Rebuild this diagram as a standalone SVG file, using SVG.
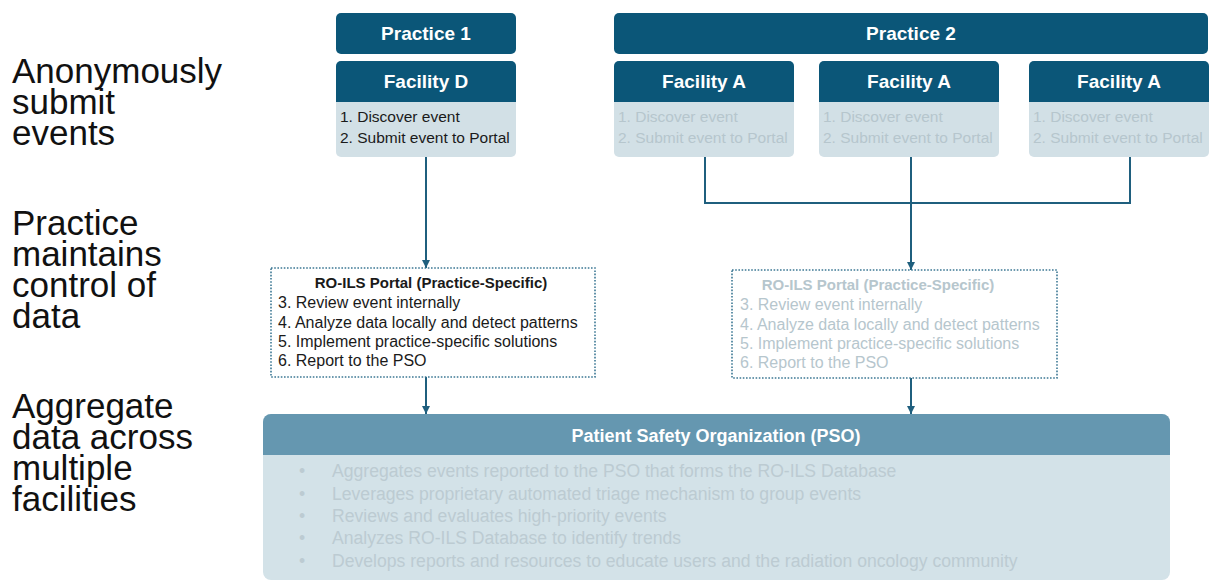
<svg xmlns="http://www.w3.org/2000/svg" width="1211" height="581" viewBox="0 0 1211 581">
  <defs>
    <marker id="arrow" viewBox="0 0 10 10" refX="10" refY="5" markerWidth="4" markerHeight="4" markerUnits="strokeWidth" orient="auto">
      <path d="M0,0 L10,5 L0,10 z" fill="#1f5f7e"/>
    </marker>
    <style>
      .lbl { font-family: "Liberation Sans", Arial, sans-serif; font-size: 35px; fill: #111; }
      .hdr { fill: #0b5678; }
      .hdrtxt { font-family: "Liberation Sans", Arial, sans-serif; font-weight: bold; font-size: 19px; fill: #fff; text-anchor: middle; }
      .body { fill: #d2e0e6; }
      .step { font-family: "Liberation Sans", Arial, sans-serif; font-size: 15.5px; fill: #1a1a1a; }
      .portal { fill: #fff; stroke: #3d7894; stroke-width: 1.6; stroke-dasharray: 1.6 1.6; }
      .ptitle { font-family: "Liberation Sans", Arial, sans-serif; font-weight: bold; font-size: 15px; fill: #1a1a1a; text-anchor: middle; }
      .pline { font-family: "Liberation Sans", Arial, sans-serif; font-size: 16px; fill: #1a1a1a; }
      .conn { fill: none; stroke: #1f5f7e; stroke-width: 2; }
      .psohdr { fill: #6597b0; }
      .psobody { fill: #d3e2e8; }
      .psotitle { font-family: "Liberation Sans", Arial, sans-serif; font-weight: bold; font-size: 18px; fill: #fff; text-anchor: middle; }
      .bullet { font-family: "Liberation Sans", Arial, sans-serif; font-size: 17.6px; fill: #bccbd2; }
      text.faded { fill: #b6c6cd; }
    </style>
  </defs>

  <rect width="1211" height="581" fill="#fff"/>

  <!-- Row labels (one text block per row, tight leading) -->
  <g id="label-submit">
    <text class="lbl" x="12" y="83">Anonymously<tspan x="12" dy="31">submit</tspan><tspan x="12" dy="31">events</tspan></text>
  </g>
  <g id="label-control">
    <text class="lbl" x="12" y="235">Practice<tspan x="12" dy="31">maintains</tspan><tspan x="12" dy="31">control of</tspan><tspan x="12" dy="31">data</tspan></text>
  </g>
  <g id="label-aggregate">
    <text class="lbl" x="12" y="418">Aggregate<tspan x="12" dy="31">data across</tspan><tspan x="12" dy="31">multiple</tspan><tspan x="12" dy="31">facilities</tspan></text>
  </g>

  <!-- Connectors -->
  <g id="connectors">
    <line class="conn" x1="426" y1="157" x2="426" y2="268" marker-end="url(#arrow)"/>
    <polyline class="conn" points="705,157 705,203 1130,203 1130,157"/>
    <line class="conn" x1="911" y1="157" x2="911" y2="270" marker-end="url(#arrow)"/>
    <line class="conn" x1="426" y1="377" x2="426" y2="414" marker-end="url(#arrow)"/>
    <line class="conn" x1="911" y1="378" x2="911" y2="414" marker-end="url(#arrow)"/>
  </g>

  <!-- Practice headers -->
  <g id="practice-1">
    <rect class="hdr" x="336" y="13" width="180" height="41" rx="5"/>
    <text class="hdrtxt" x="426" y="40">Practice 1</text>
  </g>
  <g id="practice-2">
    <rect class="hdr" x="614" y="13" width="594" height="41" rx="5"/>
    <text class="hdrtxt" x="911" y="40">Practice 2</text>
  </g>

  <!-- Facilities -->
  <g id="facility-d">
    <rect class="body" x="336" y="61" width="180" height="96" rx="5"/>
    <path class="hdr" d="M336,102 V66 a5,5 0 0 1 5,-5 H511 a5,5 0 0 1 5,5 V102 z"/>
    <text class="hdrtxt" x="426" y="88">Facility D</text>
    <text class="step" x="340" y="122">1. Discover event</text>
    <text class="step" x="340" y="143">2. Submit event to Portal</text>
  </g>
  <g id="facility-a1">
    <rect class="body" x="614" y="61" width="180" height="96" rx="5"/>
    <path class="hdr" d="M614,102 V66 a5,5 0 0 1 5,-5 H789 a5,5 0 0 1 5,5 V102 z"/>
    <text class="hdrtxt" x="704" y="88">Facility A</text>
    <text class="step faded" x="618" y="122">1. Discover event</text>
    <text class="step faded" x="618" y="143">2. Submit event to Portal</text>
  </g>
  <g id="facility-a2">
    <rect class="body" x="819" y="61" width="180" height="96" rx="5"/>
    <path class="hdr" d="M819,102 V66 a5,5 0 0 1 5,-5 H994 a5,5 0 0 1 5,5 V102 z"/>
    <text class="hdrtxt" x="909" y="88">Facility A</text>
    <text class="step faded" x="823" y="122">1. Discover event</text>
    <text class="step faded" x="823" y="143">2. Submit event to Portal</text>
  </g>
  <g id="facility-a3">
    <rect class="body" x="1029" y="61" width="180" height="96" rx="5"/>
    <path class="hdr" d="M1029,102 V66 a5,5 0 0 1 5,-5 H1204 a5,5 0 0 1 5,5 V102 z"/>
    <text class="hdrtxt" x="1119" y="88">Facility A</text>
    <text class="step faded" x="1033" y="122">1. Discover event</text>
    <text class="step faded" x="1033" y="143">2. Submit event to Portal</text>
  </g>

  <!-- Practice portals -->
  <g id="portal-1">
    <rect class="portal" x="271" y="268" width="324" height="109"/>
    <text class="ptitle" x="431" y="288">RO-ILS Portal (Practice-Specific)</text>
    <text class="pline" x="278" y="308">3. Review event internally</text>
    <text class="pline" x="278" y="328">4. Analyze data locally and detect patterns</text>
    <text class="pline" x="278" y="347">5. Implement practice-specific solutions</text>
    <text class="pline" x="278" y="366">6. Report to the PSO</text>
  </g>
  <g id="portal-2">
    <rect class="portal" x="732" y="270" width="325" height="108"/>
    <text class="ptitle faded" x="878" y="290">RO-ILS Portal (Practice-Specific)</text>
    <text class="pline faded" x="740" y="310">3. Review event internally</text>
    <text class="pline faded" x="740" y="330">4. Analyze data locally and detect patterns</text>
    <text class="pline faded" x="740" y="349">5. Implement practice-specific solutions</text>
    <text class="pline faded" x="740" y="368">6. Report to the PSO</text>
  </g>

  <!-- Patient Safety Organization -->
  <g id="pso">
    <rect class="psobody" x="263" y="414" width="907" height="166" rx="8"/>
    <path class="psohdr" d="M263,455 V422 a8,8 0 0 1 8,-8 H1162 a8,8 0 0 1 8,8 V455 z"/>
    <text class="psotitle" x="716" y="442">Patient Safety Organization (PSO)</text>
    <g class="bullet">
      <text x="299" y="477">•</text>
      <text x="332" y="477">Aggregates events reported to the PSO that forms the RO-ILS Database</text>
      <text x="299" y="500">•</text>
      <text x="332" y="500">Leverages proprietary automated triage mechanism to group events</text>
      <text x="299" y="522">•</text>
      <text x="332" y="522">Reviews and evaluates high-priority events</text>
      <text x="299" y="544">•</text>
      <text x="332" y="544">Analyzes RO-ILS Database to identify trends</text>
      <text x="299" y="567">•</text>
      <text x="332" y="567">Develops reports and resources to educate users and the radiation oncology community</text>
    </g>
  </g>
</svg>
